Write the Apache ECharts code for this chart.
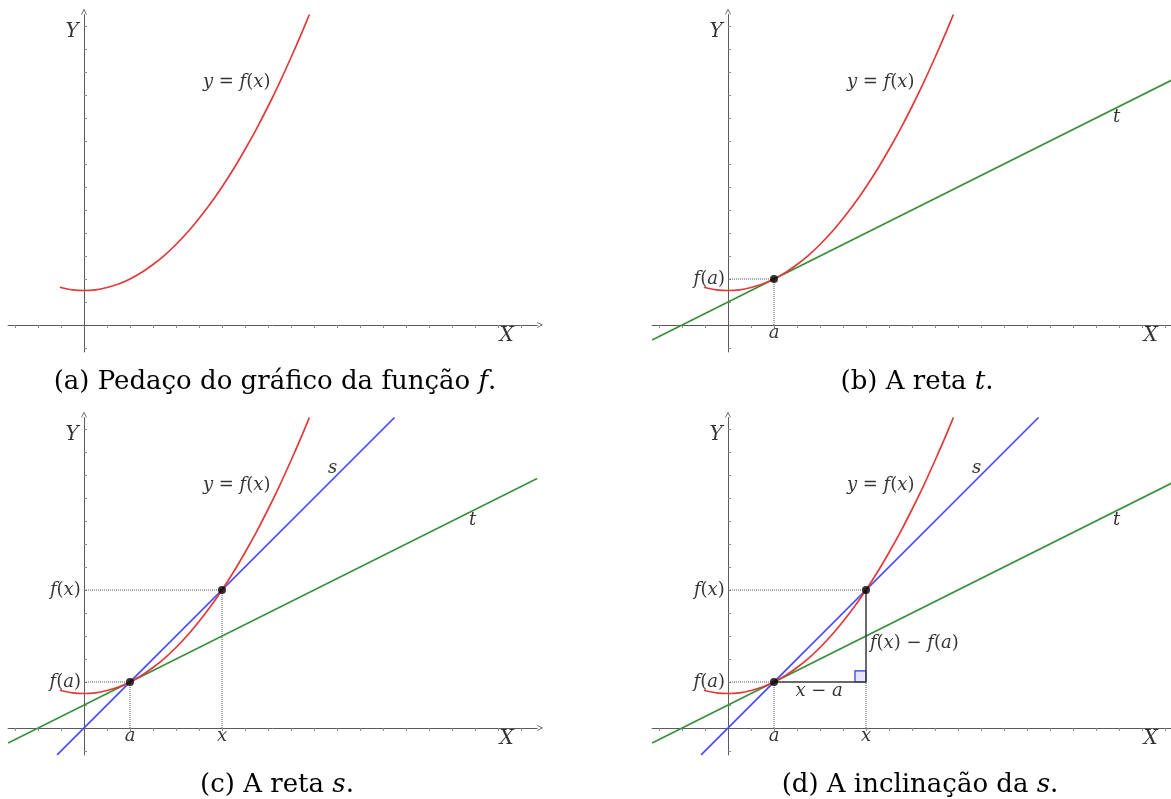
<!DOCTYPE html>
<html><head><meta charset="utf-8">
<script src="https://cdn.jsdelivr.net/npm/echarts@6/dist/echarts.min.js"></script>
<style>html,body{margin:0;padding:0;background:#fff}#c{width:1171px;height:799px}</style>
</head><body><div id="c"></div>
<script>
// ---- data (axis units = tick spacing) ----
const curveX = [-1.05, -0.5, 0, 0.5, 1, 1.5, 2, 2.5, 3, 3.5, 4, 4.5, 5, 5.5, 6, 6.5, 7, 7.5, 8, 8.5, 9, 9.5, 9.8];
const curveY = [1.64, 1.53, 1.5, 1.53, 1.63, 1.78, 2.0, 2.28, 2.63, 3.03, 3.5, 4.03, 4.63, 5.28, 6.0, 6.78, 7.63, 8.53, 9.5, 10.53, 11.63, 12.78, 13.5];
const pointA = [2, 2];          // (a, f(a))
const pointX = [6, 6];          // (x, f(x))
const tangentX = [-3.3, 19.7];  // line t
const tangentY = [-0.65, 10.85];
const secantX = [-1.17, 13.5];  // line s
const secantY = [-1.17, 13.5];
const xTicks = [-3, -2, -1, 1, 2, 3, 4, 5, 6, 7, 8, 9, 10, 11, 12, 13, 14, 15, 16, 17, 18, 19];
const yTicks = [-1, 1, 2, 3, 4, 5, 6, 7, 8, 9, 10, 11, 12, 13];
const rightAngle = 0.48;
const captionLabels = ['(a)', '(b)', '(c)', '(d)'];
const captionTexts = ['Pedaço do gráfico da função ', 'A reta ', 'A reta ', 'A inclinação da '];
const captionVars = ['f', 't', 's', 's'];

// ---- layout ----
const X_MIN = -3.3, X_MAX = 19.7, Y_MIN = -1.17, Y_MAX = 13.5, U = 23;
const origins = [[84, 325], [728, 325], [84, 728], [728, 728]];
const captionPos = [[275, 382], [917, 382], [277, 785], [920, 785]];
const FONT = 'DejaVu Serif';
const rich = {
  i: {fontFamily: FONT, fontStyle: 'italic', fontSize: 18, color: '#000'},
  r: {fontFamily: FONT, fontSize: 18, color: '#000'},
  I: {fontFamily: FONT, fontStyle: 'italic', fontSize: 20, color: '#000'}
};
const RED = '#e03a3a', GREEN = '#3c8f3c', BLUE = '#4a4af5', AX = '#5a5a5a';

const grids = [], xAxes = [], yAxes = [], series = [], graphics = [];
const arrowPath = 'path://M0,10 L5,0 L10,10 L8.6,10 L5,3 L1.4,10 Z';

function pts(xs, ys) { return xs.map((v, k) => [v, ys[k]]); }
function lineS(g, data, color, width, type, extra) {
  return Object.assign({type: 'line', xAxisIndex: g, yAxisIndex: g, data: data, showSymbol: false, symbol: 'none',
    lineStyle: {color: color, width: width, type: type || 'solid'}, silent: true, z: 3}, extra || {});
}
function label(g, x, y, fmt, align) {
  return {type: 'scatter', xAxisIndex: g, yAxisIndex: g, symbolSize: 0, data: [[x, y]], silent: true, z: 10,
    label: {show: true, position: 'inside', align: align || 'center', verticalAlign: 'middle', formatter: fmt, rich: rich}};
}
const fa = '{i|f}{r|(}{i|a}{r|)}', fx = '{i|f}{r|(}{i|x}{r|)}';

origins.forEach((o, g) => {
  grids.push({left: o[0] + X_MIN * U, top: o[1] - Y_MAX * U, width: (X_MAX - X_MIN) * U, height: (Y_MAX - Y_MIN) * U, outerBoundsMode: 'none'});
  xAxes.push({type: 'value', gridIndex: g, min: X_MIN, max: X_MAX,
    axisLine: {onZero: true, lineStyle: {color: AX, width: 1}, symbol: ['none', arrowPath], symbolSize: [7, 6], symbolOffset: [0, 3]},
    axisTick: {show: true, length: 3, customValues: xTicks, lineStyle: {color: '#888'}},
    axisLabel: {show: false}, splitLine: {show: false}});
  yAxes.push({type: 'value', gridIndex: g, min: Y_MIN, max: Y_MAX,
    axisLine: {onZero: true, lineStyle: {color: AX, width: 1}, symbol: ['none', arrowPath], symbolSize: [7, 6], symbolOffset: [0, 3]},
    axisTick: {show: true, inside: true, length: 3, customValues: yTicks, lineStyle: {color: '#888'}},
    axisLabel: {show: false}, splitLine: {show: false}});

  // red curve
  series.push(lineS(g, pts(curveX, curveY), RED, 1.7, 'solid', {smooth: 0.3, z: 4}));
  series.push(label(g, 5.17, 10.57, '{i|y}{r| = }{i|f}{r|(}{i|x}{r|)}', 'left'));
  series.push(label(g, 18.38, -0.45, '{I|X}', 'center'));
  series.push(label(g, -0.52, 12.75, '{I|Y}', 'center'));

  if (g >= 1) {
    series.push(lineS(g, pts(tangentX, tangentY), GREEN, 1.7, 'solid', {z: 3}));
    series.push(label(g, 16.9, 9.05, '{i|t}', 'center'));
    series.push(lineS(g, [[0, pointA[1]], pointA], '#555', 1, 'dotted', {z: 2}));
    series.push(lineS(g, [[pointA[0], 0], pointA], '#555', 1, 'dotted', {z: 2}));
    series.push(label(g, -0.13, pointA[1], fa, 'right'));
    series.push(label(g, pointA[0], -0.36, '{i|a}', 'center'));
  }
  if (g >= 2) {
    series.push(lineS(g, pts(secantX, secantY), BLUE, 1.7, 'solid', {z: 3}));
    series.push(label(g, 10.81, 11.29, '{i|s}', 'center'));
    series.push(lineS(g, [[0, pointX[1]], pointX], '#555', 1, 'dotted', {z: 2}));
    if (g === 2) series.push(lineS(g, [[pointX[0], 0], pointX], '#555', 1, 'dotted', {z: 2}));
    else series.push(lineS(g, [[pointX[0], 0], [pointX[0], pointA[1]]], '#555', 1, 'dotted', {z: 2}));
    series.push(label(g, -0.14, pointX[1], fx, 'right'));
    series.push(label(g, pointX[0], -0.36, '{i|x}', 'center'));
  }
  if (g === 3) {
    series.push(lineS(g, [pointA, [pointX[0], pointA[1]], pointX], '#3a3a3a', 1.5, 'solid', {z: 5,
      markArea: {silent: true, itemStyle: {color: 'rgba(80,80,245,0.15)', borderColor: '#3535c8', borderWidth: 1.2},
        data: [[{coord: [pointX[0] - rightAngle, pointA[1]]}, {coord: [pointX[0], pointA[1] + rightAngle]}]]}}));
    series.push(label(g, 3.96, 1.6, '{i|x}{r| − }{i|a}', 'center'));
    series.push(label(g, 6.17, 3.68, '{i|f}{r|(}{i|x}{r|) − }{i|f}{r|(}{i|a}{r|)}', 'left'));
  }
  // points
  const ptsData = g === 0 ? [] : (g === 1 ? [pointA] : [pointA, pointX]);
  if (ptsData.length) series.push({type: 'scatter', xAxisIndex: g, yAxisIndex: g, data: ptsData, symbolSize: 8,
    itemStyle: {color: '#000'}, silent: true, z: 8});

  graphics.push({type: 'text', x: captionPos[g][0], y: captionPos[g][1], silent: true,
    style: {text: '{r|' + captionLabels[g] + ' ' + captionTexts[g] + '}{i|' + captionVars[g] + '}{r|.}',
      align: 'center', verticalAlign: 'middle',
      rich: {r: {fontFamily: FONT, fontSize: 26, fill: '#000'}, i: {fontFamily: FONT, fontStyle: 'italic', fontSize: 26, fill: '#000'}}}});
});

const chart = echarts.init(document.getElementById('c'), null, {renderer: 'canvas'});
chart.setOption({animation: false, backgroundColor: '#fff', grid: grids, xAxis: xAxes, yAxis: yAxes, series: series, graphic: graphics});
</script></body></html>
